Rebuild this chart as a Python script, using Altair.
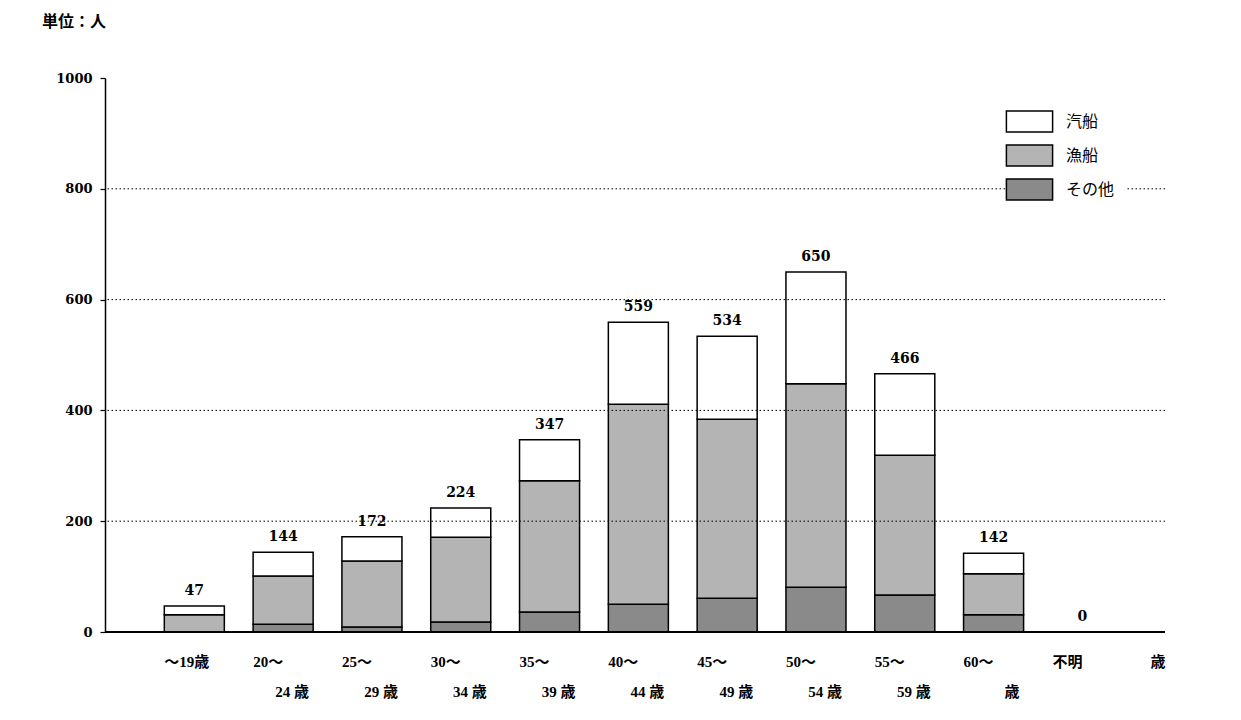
import altair as alt
import pandas as pd

# ---- data ----
CATS = ["～19歳", "20～24歳", "25～29歳", "30～34歳", "35～39歳", "40～44歳",
        "45～49歳", "50～54歳", "55～59歳", "60歳～", "不明"]
LINE1 = ["～19歳", "20～", "25～", "30～", "35～", "40～", "45～", "50～", "55～", "60～", "不明"]
LINE2 = ["", "24 歳", "29 歳", "34 歳", "39 歳", "44 歳", "49 歳", "54 歳", "59 歳", "歳", ""]
TOTAL = [47, 144, 172, 224, 347, 559, 534, 650, 466, 142, 0]
STEAM = [16, 43, 44, 53, 74, 148, 150, 202, 147, 37, 0]     # 汽船
FISH = [31, 87, 119, 153, 237, 361, 323, 367, 252, 74, 0]    # 漁船
OTHER = [0, 14, 9, 18, 36, 50, 61, 81, 67, 31, 0]            # その他
SERIES = ["汽船", "漁船", "その他"]
GRID = [200, 400, 600, 800]
YTICKS = [0, 200, 400, 600, 800, 1000]
UNIT = "単位：人"
AGE_UNIT = "歳"

rows = []
for i, c in enumerate(CATS):
    for s, vals, o in (("その他", OTHER, 0), ("漁船", FISH, 1), ("汽船", STEAM, 2)):
        rows.append({"cat": c, "series": s, "value": vals[i], "ord": o})
bars_df = pd.DataFrame(rows)
lab_df = pd.DataFrame({"cat": CATS, "value": TOTAL, "l1": LINE1, "l2": LINE2})
grid_df = pd.DataFrame({"value": GRID})
base_df = pd.DataFrame({"value": [0]})

NUM_FONT = "DejaVu Serif"
LAB_FONT = "Liberation Serif, Noto Sans CJK JP"
JP_FONT = "Noto Sans CJK JP"

xscale = alt.Scale(paddingInner=0.324, paddingOuter=0.63, align=0.53)
X = alt.X("cat:N", sort=CATS, scale=xscale, axis=None)
yscale = alt.Scale(domain=[0, 1000], nice=False)
yax = alt.Axis(values=YTICKS, grid=False, title=None, format="d", domainColor="black",
               domainWidth=1.5, tickColor="black", tickSize=5, tickWidth=1.2,
               labelFont=NUM_FONT, labelFontWeight="bold", labelFontSize=13,
               labelColor="black", labelPadding=8)

bars = alt.Chart(bars_df).transform_filter("datum.value > 0").mark_bar(
    stroke="black", strokeWidth=1.5
).encode(
    x=X,
    y=alt.Y("value:Q", stack="zero", scale=yscale, axis=yax),
    fill=alt.Fill("series:N",
                  scale=alt.Scale(domain=SERIES, range=["#ffffff", "#b4b4b4", "#8a8a8a"]),
                  legend=alt.Legend(title=None, orient="none", legendX=903, legendY=22,
                                    symbolType="M-2.2,-1H2.2V1H-2.2Z", symbolSize=441,
                                    symbolStrokeColor="black", symbolStrokeWidth=1.5,
                                    symbolOpacity=1,
                                    labelFont=JP_FONT, labelFontSize=16, labelColor="black",
                                    labelOffset=25, rowPadding=7, padding=10,
                                    fillColor="white")),
    order=alt.Order("ord:Q"),
)

grid = alt.Chart(grid_df).mark_rule(color="black", strokeWidth=1, strokeDash=[1.5, 2.5]).encode(
    y=alt.Y("value:Q", scale=yscale, axis=yax)
)
baseline = alt.Chart(base_df).mark_rule(color="black", strokeWidth=2).encode(
    y=alt.Y("value:Q", scale=yscale, axis=yax)
)

totals = alt.Chart(lab_df).mark_text(font=NUM_FONT, fontWeight="bold", fontSize=14,
                                     baseline="alphabetic", dy=-11, color="black").encode(
    x=X, y=alt.Y("value:Q", scale=yscale, axis=yax), text="value:Q"
)

line1 = alt.Chart(lab_df).mark_text(font=LAB_FONT, fontWeight="bold", fontSize=15,
                                    align="left", baseline="middle", dx=-30, color="black").encode(
    x=X, y=alt.value(584), text="l1:N"
)
line2 = alt.Chart(lab_df).mark_text(font=LAB_FONT, fontWeight="bold", fontSize=15,
                                    align="right", baseline="middle", dx=26, color="black").encode(
    x=X, y=alt.value(614), text="l2:N"
)
age_unit = alt.Chart(pd.DataFrame({"t": [AGE_UNIT]})).mark_text(
    font=LAB_FONT, fontWeight="bold", fontSize=15, baseline="middle", color="black"
).encode(x=alt.value(1053), y=alt.value(584), text="t:N")
unit = alt.Chart(pd.DataFrame({"t": [UNIT]})).mark_text(
    font=JP_FONT, fontWeight="bold", fontSize=16, align="left", baseline="middle", color="black"
).encode(x=alt.value(-63), y=alt.value(-56), text="t:N")

chart = alt.layer(bars, grid, baseline, totals, line1, line2, age_unit, unit).properties(
    width=1060, height=554,
    autosize=alt.AutoSizeParams(type="none"),
    padding={"left": 97, "top": 70, "right": 60, "bottom": 80},
    background="white",
).configure_view(stroke=None)

chart.save("out.html", embed_options={"renderer": "svg", "actions": False})
